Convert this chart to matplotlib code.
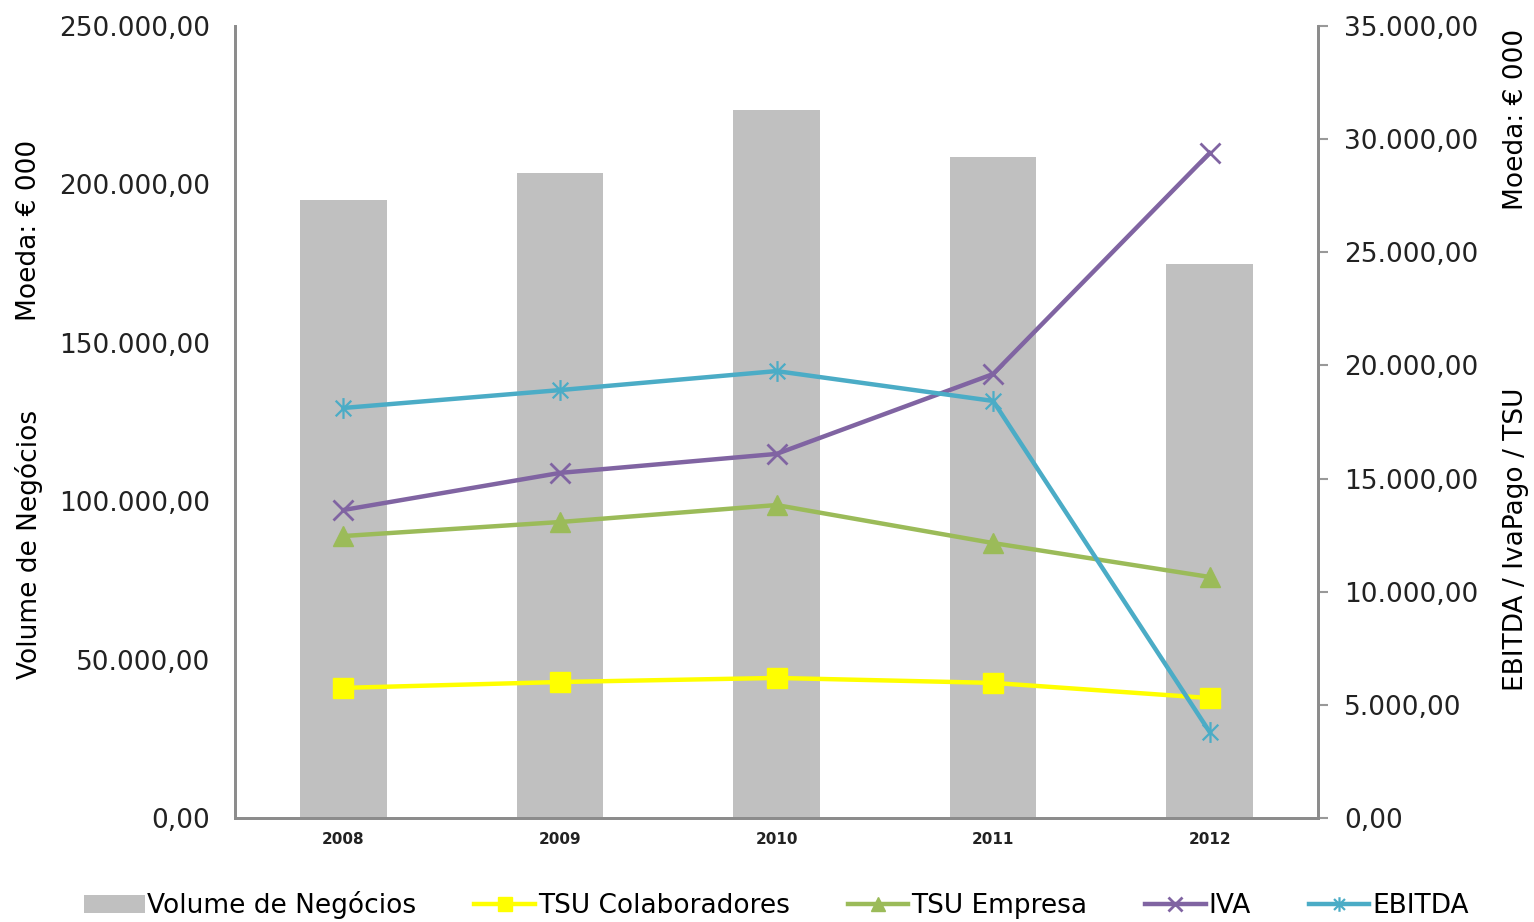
import numpy as np
import matplotlib.pyplot as plt
import matplotlib
from matplotlib.path import Path
from matplotlib.ticker import FuncFormatter

matplotlib.rcParams['font.family'] = ['DejaVu Sans']

# dados (€ 000)
anos = ['2008', '2009', '2010', '2011', '2012']
volume_negocios = [195000, 203600, 223500, 208600, 175000]
tsu_colaboradores = [5750, 6010, 6190, 5970, 5300]
tsu_empresa = [12460, 13080, 13830, 12150, 10650]
iva = [13610, 15250, 16090, 19620, 29390]
ebitda = [18120, 18910, 19750, 18430, 3800]


def fmt_pt(v, pos=None):
    s = f"{v:,.2f}"
    return s.replace(',', 'X').replace('.', ',').replace('X', '.')


# marcador asterisco tipo Excel (x com barra vertical)
star = Path([(0, -1), (0, 1), (-0.75, -0.75), (0.75, 0.75), (-0.75, 0.75), (0.75, -0.75)],
            [Path.MOVETO, Path.LINETO, Path.MOVETO, Path.LINETO, Path.MOVETO, Path.LINETO])

fig = plt.figure(figsize=(15.34, 9.22), dpi=100)
ax1 = fig.add_axes([0.1532, 0.1128, 0.706, 0.859])
ax2 = ax1.twinx()

x = np.arange(len(anos))
bars = ax1.bar(x, volume_negocios, width=0.4, color='#C0C0C0', label='Volume de Negócios')
ax1.set_xlim(-0.5, 4.5)
ax1.set_ylim(0, 250000)
ax1.set_yticks(np.arange(0, 250001, 50000))
ax1.yaxis.set_major_formatter(FuncFormatter(fmt_pt))
ax1.set_xticks(x)
ax1.set_xticklabels(anos, fontsize=11, color='#222222', fontweight='semibold')
ax1.tick_params(axis='y', length=0, labelsize=19, pad=18, colors='#222222')
ax1.tick_params(axis='x', length=0, pad=10)

lw = 3.2
l1, = ax2.plot(x, tsu_colaboradores, color='#FFFF00', lw=lw, marker='s', ms=14,
               label='TSU Colaboradores')
l2, = ax2.plot(x, tsu_empresa, color='#9BBB59', lw=lw, marker='^', ms=15,
               label='TSU Empresa')
l3, = ax2.plot(x, iva, color='#8064A2', lw=lw, marker='x', ms=14, mew=2,
               label='IVA')
l4, = ax2.plot(x, ebitda, color='#4BACC6', lw=lw, marker=star, ms=15, mew=1.6,
               label='EBITDA')
ax2.set_ylim(0, 35000)
ax2.set_yticks(np.arange(0, 35001, 5000))
ax2.yaxis.set_major_formatter(FuncFormatter(fmt_pt))
ax2.tick_params(axis='y', length=7, width=1.5, labelsize=19, pad=12,
                colors='#222222')
ax2.tick_params(axis='y', color='#999999')

for ax in (ax1, ax2):
    ax.spines['top'].set_visible(False)
    for s in ('left', 'right', 'bottom'):
        ax.spines[s].set_color('#8C8C8C')
        ax.spines[s].set_linewidth(2)

# títulos dos eixos
fig.text(0.019, 0.75, 'Moeda: € 000', rotation=90, fontsize=19, ha='center', va='center')
fig.text(0.019, 0.41, 'Volume de Negócios', rotation=90, fontsize=19, ha='center', va='center')
fig.text(0.988, 0.87, 'Moeda: € 000', rotation=90, fontsize=19, ha='center', va='center')
fig.text(0.988, 0.415, 'EBITDA / IvaPago / TSU', rotation=90, fontsize=19, ha='center', va='center')

fig.legend([bars, l1, l2, l3, l4],
           ['Volume de Negócios', 'TSU Colaboradores', 'TSU Empresa', 'IVA', 'EBITDA'],
           loc='center', bbox_to_anchor=(0.506, 0.018), ncol=5, frameon=False,
           fontsize=19, handlelength=2.3, handletextpad=0.1, columnspacing=2.2,
           markerscale=0.7)

fig.savefig('out.png', dpi=100)
